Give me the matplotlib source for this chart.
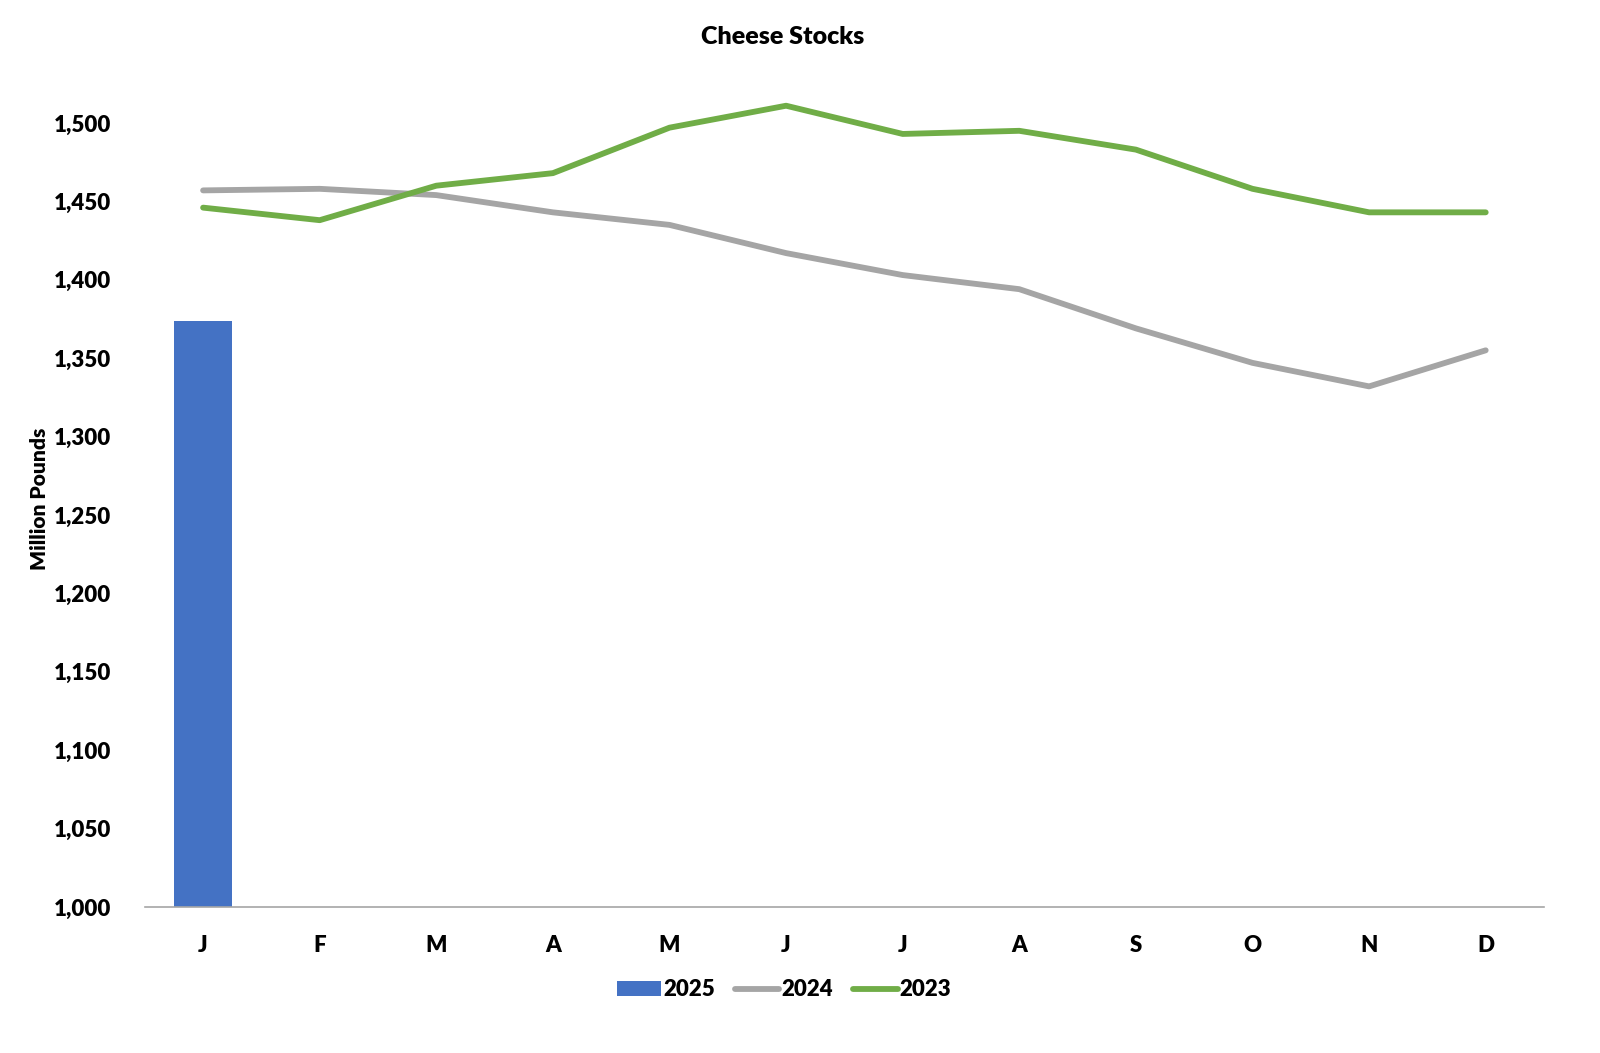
import numpy as np
import matplotlib.pyplot as plt
from matplotlib.ticker import FuncFormatter

plt.rcParams['font.family'] = ['Lato', 'DejaVu Sans']
plt.rcParams['font.weight'] = 'heavy'

months = ['J', 'F', 'M', 'A', 'M', 'J', 'J', 'A', 'S', 'O', 'N', 'D']
stocks_2025 = [1374]
stocks_2024 = [1457, 1458, 1454, 1443, 1435, 1417, 1403, 1394, 1369, 1347, 1332, 1355]
stocks_2023 = [1446, 1438, 1460, 1468, 1497, 1511, 1493, 1495, 1483, 1458, 1443, 1443]

x = np.arange(len(months))

fig = plt.figure(figsize=(16, 10.53), dpi=100)
ax = fig.add_axes([0.0905, 0.1387, 0.8745, 0.7743])

b = ax.bar(x[:len(stocks_2025)], stocks_2025, width=0.5, color='#4472C4', label='2025', zorder=2)
l1, = ax.plot(x, stocks_2024, color='#A5A5A5', lw=4.2, solid_capstyle='round', label='2024', zorder=3)
l2, = ax.plot(x, stocks_2023, color='#70AD47', lw=4.2, solid_capstyle='round', label='2023', zorder=3)

ax.set_xlim(-0.5, 11.5)
ax.set_ylim(1000, 1520)
ax.set_yticks(np.arange(1000, 1501, 50))
ax.yaxis.set_major_formatter(FuncFormatter(lambda v, p: f'{v:,.0f}'))
ax.set_xticks(x)
ax.set_xticklabels(months)
ax.tick_params(axis='both', length=0, labelsize=16)
ax.tick_params(axis='x', pad=20)
ax.tick_params(axis='y', pad=24)

for s in ['top', 'right', 'left']:
    ax.spines[s].set_visible(False)
ax.spines['bottom'].set_color('#A6A6A6')
ax.spines['bottom'].set_linewidth(1.2)

ax.set_ylabel('Million Pounds', fontsize=15, fontweight='heavy', labelpad=4)
fig.text(0.489, 0.965, 'Cheese Stocks', ha='center', va='center', fontsize=18, fontweight='heavy')

fig.legend(handles=[b, l1, l2], loc='center', bbox_to_anchor=(0.49, 0.06), ncol=3, frameon=False,
           fontsize=16, handlelength=2.0, handleheight=0.6, handletextpad=0.1, columnspacing=0.9)

fig.savefig('out.png', dpi=100)
